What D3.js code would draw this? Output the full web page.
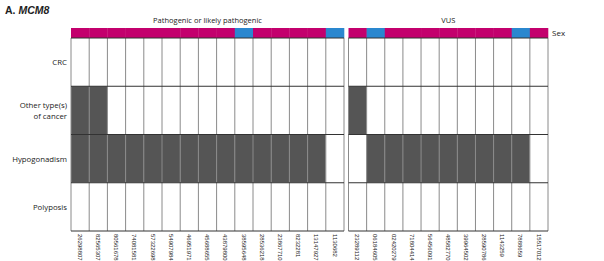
<!DOCTYPE html>
<html><head><meta charset="utf-8">
<script src="https://cdn.jsdelivr.net/npm/d3@7"></script>
<style>body{margin:0;background:#fff}svg{display:block}</style>
</head><body>
<svg id="c" width="604" height="261"></svg>
<script>
const rows = ["CRC", "Other type(s)\nof cancer", "Hypogonadism", "Polyposis"];
const pathIds = ["26298807","82565307","80561678","74081581","57322698","54907984","46951971","45688655","43879800","38595648","28536218","23867710","8232281","13147927","1130682"];
const vusIds = ["23289112","06184605","02420279","71804414","56456091","48582770","39964502","28590786","1143259","7888659","15517012"];
// sex: F = female (magenta), M = male (blue)
const pathSex = ["F","F","F","F","F","F","F","F","F","M","F","F","F","F","M"];
const vusSex = ["F","M","F","F","F","F","F","F","F","M","F"];
// presence per row [CRC, Other, Hypogonadism, Polyposis]
const pathCRC   = [0,0,0,0,0,0,0,0,0,0,0,0,0,0,0];
const pathOther = [1,1,0,0,0,0,0,0,0,0,0,0,0,0,0];
const pathHypo  = [1,1,1,1,1,1,1,1,1,1,1,1,1,1,0];
const pathPoly  = [0,0,0,0,0,0,0,0,0,0,0,0,0,0,0];
const vusCRC   = [0,0,0,0,0,0,0,0,0,0,0];
const vusOther = [1,0,0,0,0,0,0,0,0,0,0];
const vusHypo  = [0,1,1,1,1,1,1,1,1,1,0];
const vusPoly  = [0,0,0,0,0,0,0,0,0,0,0];
const groupLabels = ["Pathogenic or likely pathogenic", "VUS"];

const svg = d3.select("#c");
const font = "'Open Sans', 'DejaVu Sans', sans-serif";
const sexColor = d3.scaleOrdinal().domain(["F","M"]).range(["#C3006D","#2A87CF"]);
const y = d3.scaleBand().domain(d3.range(rows.length)).range([38, 231]);

svg.append("text").attr("x",5).attr("y",14).attr("font-family","'Liberation Sans', Arial, sans-serif")
  .attr("font-size",10.5).attr("font-weight","bold").attr("fill","#222")
  .call(t=>{t.append("tspan").text("A. "); t.append("tspan").attr("font-style","italic").text("MCM8");});

const panels = [
  {ids: pathIds, sex: pathSex, data:[pathCRC,pathOther,pathHypo,pathPoly], range:[71,344], label: groupLabels[0]},
  {ids: vusIds, sex: vusSex, data:[vusCRC,vusOther,vusHypo,vusPoly], range:[348.5,548], label: groupLabels[1]}
];

panels.forEach(p => {
  const x = d3.scaleBand().domain(d3.range(p.ids.length)).range(p.range);
  const g = svg.append("g");
  g.selectAll("rect.sex").data(p.sex).join("rect")
    .attr("x",(d,i)=>x(i)).attr("y",28).attr("width",x.bandwidth()+0.3).attr("height",10)
    .attr("fill",d=>sexColor(d));
  p.data.forEach((arr,r)=>{
    g.selectAll(null).data(arr).join("rect")
      .attr("x",(d,i)=>x(i)).attr("y",y(r)).attr("width",x.bandwidth()).attr("height",y.bandwidth())
      .attr("fill",d=>d? "#555555":"#ffffff");
  });
  const xs = d3.range(p.ids.length+1).map(i=> i<p.ids.length ? x(i) : p.range[1]);
  g.selectAll("line.v").data(xs).join("line")
    .attr("x1",d=>d).attr("x2",d=>d).attr("y1",38).attr("y2",231)
    .attr("stroke","#8a8a8a").attr("stroke-width",1);
  const ys = rows.map((r,i)=>y(i)).concat([231]);
  g.selectAll("line.h").data(ys).join("line")
    .attr("x1",p.range[0]).attr("x2",p.range[1]).attr("y1",d=>d).attr("y2",d=>d)
    .attr("stroke","#333").attr("stroke-width",1);
  g.selectAll("text.id").data(p.ids).join("text")
    .attr("transform",(d,i)=>`translate(${x(i)+x.bandwidth()/2-2.3},234) rotate(90)`)
    .attr("font-family","'Liberation Sans', Arial, sans-serif").attr("font-size",6).attr("fill","#222").text(d=>d);
  g.append("text").attr("x",(p.range[0]+p.range[1])/2).attr("y",23).attr("text-anchor","middle")
    .attr("font-family",font).attr("font-size",7.5).attr("fill","#222").text(p.label);
});

svg.append("text").attr("x",552).attr("y",36).attr("font-family",font).attr("font-size",8).attr("fill","#222").text("Sex");

rows.forEach((r,i)=>{
  const lines = r.split("\n");
  const cy = y(i)+y.bandwidth()/2;
  const t = svg.append("text").attr("text-anchor","end").attr("font-family",font).attr("font-size",7.8).attr("fill","#222");
  lines.forEach((l,j)=>{
    t.append("tspan").attr("x",67).attr("y",cy + 3 + (j-(lines.length-1)/2)*11).text(l);
  });
});
</script>
</body></html>
